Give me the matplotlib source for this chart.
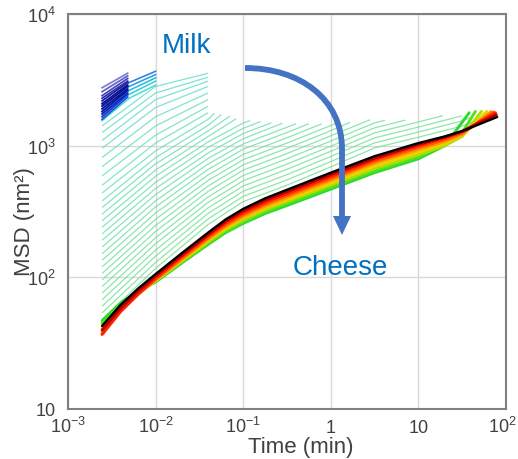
import matplotlib
matplotlib.use("Agg")
import matplotlib.pyplot as plt
from matplotlib.colors import LinearSegmentedColormap
from matplotlib.path import Path
from matplotlib.patches import PathPatch, Polygon
from matplotlib.ticker import NullLocator
from matplotlib.transforms import ScaledTranslation
import numpy as np

plt.rcParams['font.family'] = ['Liberation Sans', 'DejaVu Sans']

# --- data (time in min, MSD in nm^2) ---
t_first = 0.00245

# earliest (milk) curves, short window
blue_t_end = 0.0048
blue_start = [1585, 1660, 1738, 1820, 1905, 1995, 2089, 2188, 2291, 2399, 2570, 2754]
blue_end = [2344, 2455, 2512, 2630, 2692, 2818, 2884, 3020, 3090, 3236, 3388, 3548]

cyan_t = [0.00245, 0.005, 0.01]
cyan_msd = [
    [1549, 2291, 2884],
    [1660, 2455, 3090],
    [1778, 2630, 3273],
    [1905, 2818, 3467],
    [2042, 3020, 3673],
]

# aquamarine curves, bottom (k=1) to top (k=28)
aqua_t = [0.00245, 0.01, 0.0398, 0.1, 0.316, 1.0, 3.16, 10.0, 31.6]
aqua_msd = [
    [47.9, 117, 252, 376, 501, 690, 962, 1159, 1409],
    [53.7, 130, 278, 412, 550, 757, 1050, 1268, 1542],
    [60.3, 145, 306, 451, 603, 828, 1146, 1384],
    [67.6, 161, 337, 494, 661, 906, 1250, 1514],
    [75.9, 180, 371, 542, 724, 991, 1365],
    [85.1, 200, 408, 594, 794, 1086, 1489],
    [95.5, 223, 450, 652, 871, 1189],
    [107, 248, 494, 715, 955, 1300],
    [120, 276, 545, 782, 1047, 1422],
    [135, 308, 600, 857, 1148],
    [151, 343, 661, 940, 1259],
    [170, 381, 726, 1030, 1380],
    [191, 425, 800, 1130],
    [214, 473, 881, 1236],
    [240, 527, 971, 1355],
    [269, 586, 1069, 1486],
    [302, 653, 1175],
    [339, 728, 1294],
    [380, 811, 1426],
    [437, 912, 1585],
    [501, 1047, 1778],
    [589, 1202, 1995],
    [692, 1413, 2239],
    [813, 1660, 2512],
    [955, 1950, 2818],
    [1096, 2239, 3090],
    [1259, 2512, 3311],
    [1413, 2818, 3548],
]
aqua_end_t = [56.2, 41.7, 31.6, 19.1, 7.08, 4.17, 2.82, 1.66, 1.26, 0.79, 0.56, 0.40,
              0.28, 0.21, 0.158, 0.12, 0.083, 0.0708, 0.0562, 0.0468,
              None, None, None, None, None, None, None, None]
aqua_end_msd = [1645, 1660, 1687, 1690, 1563, 1560, 1574, 1503, 1518, 1466, 1466, 1466,
                1479, 1493, 1524, 1549, 1600, 1680, 1720, 1760,
                None, None, None, None, None, None, None, None]

# late (cheese) curves: green -> yellow -> orange -> red -> black
band_t = [0.00245, 0.00398, 0.00631, 0.01, 0.02, 0.0398, 0.0631, 0.1, 0.178, 0.316,
          1.0, 3.16, 10.0, 20.0, 31.6]
band_names = ['green2', 'green', 'yellowgreen', 'yellow', 'orange', 'orangered',
              'red', 'darkred', 'black']
band_msd = [
    [46.8, 63.9, 78.5, 92.2, 128.8, 177.9, 218.7, 256.9, 305.3, 351.0, 467.8, 623.9, 794.7, 1000],
    [44.7, 61.7, 77.6, 93.3, 130.3, 182.0, 223.9, 262.9, 314.9, 363.0, 484.0, 645.5, 821.9, 1023, 1258],
    [42.7, 59.6, 76.7, 94.4, 133.4, 186.2, 230.0, 272.2, 325.2, 375.9, 501.5, 668.8, 851.2, 1000, 1175],
    [40.8, 57.9, 75.9, 94.4, 134.9, 190.6, 237.1, 281.8, 337.2, 388.9, 518.9, 699.5, 891.0, 1035, 1189],
    [38.5, 55.7, 74.1, 95.5, 137.0, 195.0, 242.6, 288.4, 346.7, 402.8, 543.2, 732.8, 932.9, 1072, 1216],
    [37.2, 55.0, 74.1, 96.6, 139.6, 199.5, 250.1, 298.7, 359.1, 417.1, 562.6, 758.6, 966.4, 1109, 1244],
    [36.8, 55.0, 75.0, 98.8, 144.5, 206.5, 258.3, 308.9, 371.4, 431.4, 581.9, 785.2, 999.9, 1143, 1273],
    [39.8, 58.2, 78.5, 102.3, 147.9, 211.4, 266.0, 319.8, 384.6, 446.7, 602.5, 803.5, 1023, 1162, 1288],
    [42.7, 61.7, 82.2, 105.9, 153.1, 218.8, 275.4, 331.1, 398.1, 462.4, 623.7, 831.8, 1047, 1175, 1288],
]
band_end_t = [38.0, 44.7, 52.5, 60.3, 67.6, 72.4, 75.9, 77.6, 79.4]
band_end_msd = [1778, 1820, 1820, 1820, 1820, 1799, 1778, 1718, 1652]

x_ticks = [1e-3, 1e-2, 1e-1, 1, 10, 1e2]
x_labels = [r'$\mathregular{10^{-3}}$', r'$\mathregular{10^{-2}}$', r'$\mathregular{10^{-1}}$',
            '1', '10', r'$\mathregular{10^{2}}$']
y_ticks = [10, 1e2, 1e3, 1e4]
y_labels = ['10', r'$\mathregular{10^{2}}$', r'$\mathregular{10^{3}}$', r'$\mathregular{10^{4}}$']

# --- drawing ---
W, H = 518, 460
fig = plt.figure(figsize=(W / 100, H / 100), dpi=100)
ax = fig.add_axes([68 / W, 50 / H, 438 / W, 395 / H])
ax.set_xscale('log')
ax.set_yscale('log')

blue_cmap = LinearSegmentedColormap.from_list('b', ['#2050e6', '#0c16a4', '#0a0a8c', '#3030b0', '#8080d8'])
blue_cols = blue_cmap(np.linspace(0, 1, len(blue_start)))
cyan_cmap = LinearSegmentedColormap.from_list('c', ['#30dcc4', '#0ab0dc', '#0a70e0'])
cyan_cols = cyan_cmap(np.linspace(0, 1, len(cyan_msd)))
aqua_cmap = LinearSegmentedColormap.from_list('a', ['#6ee08c', '#68dfa8', '#5addc4'])
aqua_cols = aqua_cmap(np.linspace(0, 1, len(aqua_msd)))
band_cols = ['#2ed82e', '#52e020', '#a8e000', '#f2d000', '#ff9a00', '#ff5a00',
             '#ff2000', '#c00000', '#000000']

for i in range(len(aqua_msd) - 1, -1, -1):
    vals = list(aqua_msd[i])
    tt = aqua_t[:len(vals)]
    if aqua_end_t[i] is not None:
        tt = tt + [aqua_end_t[i]]
        vals = vals + [aqua_end_msd[i]]
    ax.plot(tt, vals, color=aqua_cols[i], lw=0.9, alpha=0.78, solid_capstyle='butt')

for i, vals in enumerate(cyan_msd):
    ax.plot(cyan_t, vals, color=cyan_cols[i], lw=1.1, alpha=0.9)

for i in range(len(blue_start)):
    ax.plot([t_first, blue_t_end], [blue_start[i], blue_end[i]], color=blue_cols[i], lw=1.3)

for i, vals in enumerate(band_msd):
    tt = band_t[:len(vals)] + [band_end_t[i]]
    ax.plot(tt, list(vals) + [band_end_msd[i]], color=band_cols[i],
            lw=2.1 if band_names[i] != 'black' else 1.7, solid_capstyle='round')

ax.set_xlim(1e-3, 1e2)
ax.set_ylim(10, 1e4)
ax.set_xticks(x_ticks)
ax.set_xticklabels(x_labels)
ax.set_yticks(y_ticks)
ax.set_yticklabels(y_labels)
ax.xaxis.set_minor_locator(NullLocator())
ax.yaxis.set_minor_locator(NullLocator())
ax.tick_params(length=0, labelsize=13, labelcolor='#404040')
ax.tick_params(axis='x', pad=16.5)
ax.tick_params(axis='y', pad=9)
xlabs = ax.get_xticklabels()
for lab in xlabs:
    lab.set_verticalalignment('baseline')
# last label sits right at the figure edge; nudge it inwards a little
xlabs[-1].set_transform(xlabs[-1].get_transform() + ScaledTranslation(-0.04, 0, fig.dpi_scale_trans))
ax.grid(True, color='#d9d9d9', lw=1.0)
ax.set_axisbelow(True)
for sp in ax.spines.values():
    sp.set_color('#808080')
    sp.set_linewidth(1.5)

ax.set_xlabel('Time (min)', fontsize=16, color='#404040')
ax.xaxis.set_label_coords(0.532, -0.068)
ax.set_ylabel('MSD (nm²)', fontsize=16, color='#404040')
ax.yaxis.set_label_coords(-0.075, 0.476)

# overlay in pixel coordinates for the annotation arrow and labels
ov = fig.add_axes([0, 0, 1, 1])
ov.set_xlim(0, W)
ov.set_ylim(H, 0)
ov.axis('off')
ov.patch.set_alpha(0)

arc = Path([(245, 69), (300, 69), (342, 100), (342, 150), (342, 219)],
           [Path.MOVETO, Path.CURVE4, Path.CURVE4, Path.CURVE4, Path.LINETO])
ov.add_patch(PathPatch(arc, fill=False, edgecolor='#4472c4', lw=4.2, capstyle='butt'))
ov.add_patch(Polygon([(333, 217), (351, 217), (342, 236)], closed=True,
                     facecolor='#4472c4', edgecolor='none'))

ov.text(187, 53, 'Milk', fontsize=20, color='#0070c0', ha='center', va='baseline')
ov.text(340, 275, 'Cheese', fontsize=20, color='#0070c0', ha='center', va='baseline')

fig.savefig('out.png', dpi=100, facecolor='white')
